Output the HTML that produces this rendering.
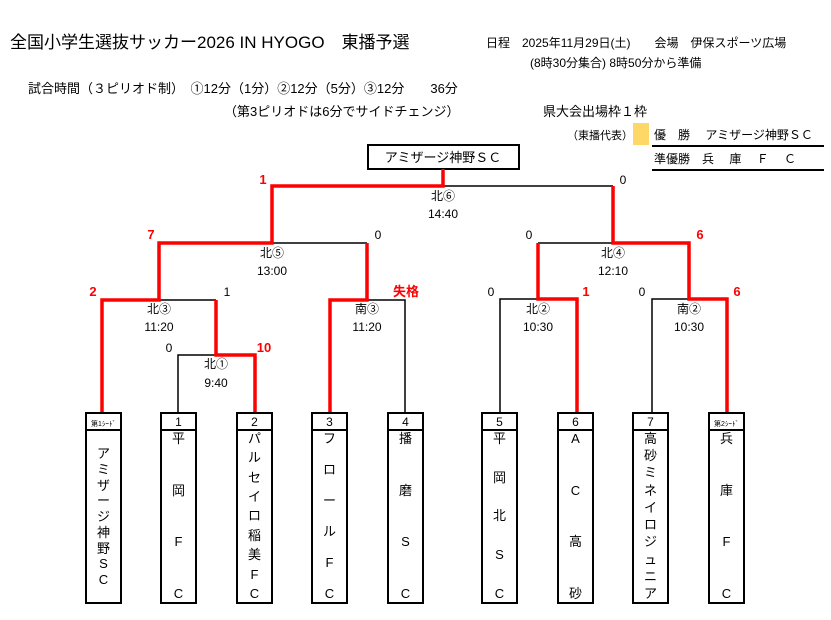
<!DOCTYPE html>
<html><head><meta charset="utf-8"><style>
html,body{margin:0;padding:0;background:#fff}
svg{display:block}
text{font-family:"Liberation Sans","Noto Sans CJK JP",sans-serif;fill:#000}
.r{fill:#f00;font-weight:bold}
</style></head><body>
<svg width="831" height="620" viewBox="0 0 831 620" xmlns="http://www.w3.org/2000/svg">
<text x="10" y="48" font-size="17">全国小学生選抜サッカー2026 IN HYOGO　東播予選</text>
<text x="486" y="47" font-size="12">日程　2025年11月29日(土)　　会場　伊保スポーツ広場</text>
<text x="530" y="67" font-size="12">(8時30分集合) 8時50分から準備</text>
<text x="28" y="93" font-size="13">試合時間（３ピリオド制）　①12分（1分）②12分（5分）③12分　　36分</text>
<text x="224" y="116" font-size="13">（第3ピリオドは6分でサイドチェンジ）</text>
<text x="543" y="116" font-size="13">県大会出場枠１枠</text>
<text x="567" y="139" font-size="11">（東播代表）</text>
<rect x="633" y="123" width="16" height="22" fill="#fdd866"/>
<text x="654" y="139" font-size="12">優　勝　 アミザージ神野ＳＣ</text>
<line x1="652" y1="146" x2="824" y2="146" stroke="#000" stroke-width="2"/>
<text x="654" y="163" font-size="12">準優勝　兵　 庫　  Ｆ　 Ｃ</text>
<line x1="652" y1="170" x2="824" y2="170" stroke="#000" stroke-width="2"/>
<rect x="368" y="145" width="151" height="24" fill="none" stroke="#000" stroke-width="2"/>
<text x="443" y="162" font-size="13" text-anchor="middle">アミザージ神野ＳＣ</text>

<g fill="none" stroke-width="1.5" stroke="#000">
<polyline points="443,186 613,186"/>
<polyline points="272,243 367,243"/>
<polyline points="538,243 613,243"/>
<polyline points="538,299 500,299 500,413"/>
<polyline points="652,413 652,299 689,299"/>
<polyline points="159,300 216,300"/>
<polyline points="367,300 405,300 405,413"/>
<polyline points="178,413 178,355 216,355"/>
</g>
<g fill="none" stroke-width="3.5" stroke="#f00">
<polyline points="443,169 443,186 272,186 272,243 159,243 159,300 102,300 102,413"/>
<polyline points="216,300 216,355 255,355 255,413"/>
<polyline points="367,243 367,300 330,300 330,413"/>
<polyline points="613,186 613,243 689,243 689,299 727,299 727,413"/>
<polyline points="538,243 538,299 577,299 577,413"/>
</g>

<g font-size="12" text-anchor="middle">
<text x="443" y="200">北⑥</text><text x="443" y="218">14:40</text>
<text x="272" y="257">北⑤</text><text x="272" y="275">13:00</text>
<text x="613" y="257">北④</text><text x="613" y="275">12:10</text>
<text x="159" y="313">北③</text><text x="159" y="331">11:20</text>
<text x="367" y="313">南③</text><text x="367" y="331">11:20</text>
<text x="538" y="313">北②</text><text x="538" y="331">10:30</text>
<text x="689" y="313">南②</text><text x="689" y="331">10:30</text>
<text x="216" y="368">北①</text><text x="216" y="387">9:40</text>
<text x="623" y="184">0</text>
<text x="378" y="239">0</text>
<text x="529" y="239">0</text>
<text x="227" y="296">1</text>
<text x="491" y="296">0</text>
<text x="642" y="296">0</text>
<text x="169" y="352">0</text>
</g>
<g font-size="13" text-anchor="middle">
<text class="r" x="263" y="184">1</text>
<text class="r" x="151" y="239">7</text>
<text class="r" x="700" y="239">6</text>
<text class="r" x="93" y="296">2</text>
<text class="r" x="586" y="296">1</text>
<text class="r" x="737" y="296">6</text>
<text class="r" x="406" y="296">失格</text>
<text class="r" x="264" y="352">10</text>
</g>

<g fill="none" stroke="#000" stroke-width="2">
<rect x="86" y="413" width="35" height="190"/><line x1="86" y1="430" x2="121" y2="430"/>
<rect x="161" y="413" width="35" height="190"/><line x1="161" y1="430" x2="196" y2="430"/>
<rect x="237" y="413" width="35" height="190"/><line x1="237" y1="430" x2="272" y2="430"/>
<rect x="312" y="413" width="35" height="190"/><line x1="312" y1="430" x2="347" y2="430"/>
<rect x="388" y="413" width="35" height="190"/><line x1="388" y1="430" x2="423" y2="430"/>
<rect x="482" y="413" width="35" height="190"/><line x1="482" y1="430" x2="517" y2="430"/>
<rect x="558" y="413" width="35" height="190"/><line x1="558" y1="430" x2="593" y2="430"/>
<rect x="633" y="413" width="35" height="190"/><line x1="633" y1="430" x2="668" y2="430"/>
<rect x="709" y="413" width="35" height="190"/><line x1="709" y1="430" x2="744" y2="430"/>
</g>
<g text-anchor="middle">
<text x="103.5" y="426" font-size="7">第1ｼｰﾄﾞ</text>
<text x="726.5" y="426" font-size="7">第2ｼｰﾄﾞ</text>
<g font-size="12">
<text x="178.5" y="426">1</text><text x="254.5" y="426">2</text><text x="329.5" y="426">3</text>
<text x="405.5" y="426">4</text><text x="499.5" y="426">5</text><text x="575.5" y="426">6</text><text x="650.5" y="426">7</text>
</g>
<g font-size="13">
<text x="103.5" y="458">ア</text><text x="103.5" y="474">ミ</text><text x="103.5" y="490">ザ</text><text x="103.5" y="505">ー</text><text x="103.5" y="521">ジ</text><text x="103.5" y="537">神</text><text x="103.5" y="553">野</text><text x="103.5" y="568">S</text><text x="103.5" y="584">C</text>

<text x="178.5" y="443">平</text><text x="178.5" y="495">岡</text><text x="178.5" y="546">F</text><text x="178.5" y="598">C</text>

<text x="254.5" y="443">パ</text><text x="254.5" y="462">ル</text><text x="254.5" y="482">セ</text><text x="254.5" y="501">イ</text><text x="254.5" y="520">ロ</text><text x="254.5" y="540">稲</text><text x="254.5" y="559">美</text><text x="254.5" y="579">F</text><text x="254.5" y="598">C</text>

<text x="329.5" y="443">フ</text><text x="329.5" y="474">ロ</text><text x="329.5" y="505">ー</text><text x="329.5" y="536">ル</text><text x="329.5" y="567">F</text><text x="329.5" y="598">C</text>

<text x="405.5" y="443">播</text><text x="405.5" y="495">磨</text><text x="405.5" y="546">S</text><text x="405.5" y="598">C</text>

<text x="499.5" y="443">平</text><text x="499.5" y="482">岡</text><text x="499.5" y="520">北</text><text x="499.5" y="559">S</text><text x="499.5" y="598">C</text>

<text x="575.5" y="443">A</text><text x="575.5" y="495">C</text><text x="575.5" y="546">高</text><text x="575.5" y="598">砂</text>

<text x="650.5" y="443">高</text><text x="650.5" y="460">砂</text><text x="650.5" y="477">ミ</text><text x="650.5" y="495">ネ</text><text x="650.5" y="512">イ</text><text x="650.5" y="529">ロ</text><text x="650.5" y="546">ジ</text><text x="650.5" y="564">ュ</text><text x="650.5" y="581">ニ</text><text x="650.5" y="598">ア</text>

<text x="726.5" y="443">兵</text><text x="726.5" y="495">庫</text><text x="726.5" y="546">F</text><text x="726.5" y="598">C</text>
</g>
</g>
</svg>
</body></html>
